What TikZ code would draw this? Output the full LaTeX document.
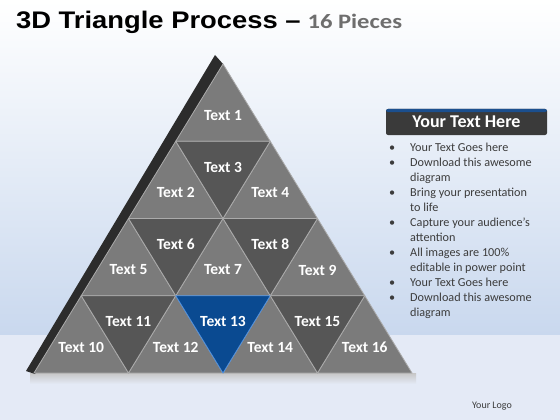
\documentclass[tikz,border=0pt]{standalone}
\usepackage{fontspec}
\setmainfont{Carlito}
\newfontfamily\titlefont{Liberation Sans}
\definecolor{upcol}{HTML}{7B7B7B}
\definecolor{downcol}{HTML}{565656}
\definecolor{edgecol}{HTML}{ABABAB}
\definecolor{bluecol}{HTML}{0A4A91}
\definecolor{blueedge}{HTML}{4F8FDC}
\definecolor{sidecol}{HTML}{2C2C2C}
\definecolor{bgblue}{HTML}{C9D8EE}
\definecolor{bglow}{HTML}{E4EAF6}
\definecolor{hdrgray}{HTML}{3A3A3A}
\definecolor{hdrblue}{HTML}{1B4F8E}
\definecolor{piecegray}{HTML}{6E6E6E}
\definecolor{notegray}{HTML}{3C3C3C}
\tikzset{
  upface/.style={fill=upcol,draw=edgecol,line width=0.8pt,line join=round},
  downface/.style={fill=downcol,draw=edgecol,line width=0.8pt,line join=round},
  blueface/.style={fill=bluecol,draw=blueedge,line width=0.8pt,line join=round},
  lbl/.style={text=white,font=\fontsize{15.5}{18}\selectfont\bfseries,inner sep=0pt}
}
\begin{document}
\begin{tikzpicture}[x=1pt,y=-1pt]
\useasboundingbox (0,0) rectangle (560,420);
\shade[top color=white,bottom color=bgblue] (0,0) rectangle (560,335);
\fill[bglow] (0,335) rectangle (560,420);
\shade[top color=black!22,bottom color=bglow] (30,373) rectangle (416,384);
\node[anchor=base west,inner sep=0pt] (title) at (16,29)
  {\scalebox{1.14}[1]{\titlefont\bfseries\fontsize{24}{28}\selectfont 3D Triangle Process –}\hspace{7pt}%
   \scalebox{1.2}[1]{\color{piecegray}\bfseries\fontsize{20.5}{24}\selectfont 16 Pieces}};
\fill[sidecol] (26,371) -- (215,55) -- (223,64) -- (35,374) -- cycle;
\foreach \r in {0,...,3}{
  \foreach \j in {0,...,\r}{
    \pgfmathsetmacro\ax{223+(2*\j-\r)*47.25}
    \pgfmathsetmacro\ay{64+\r*77.25}
    \pgfmathtruncatemacro\n{\r*\r+1+2*\j}
    \filldraw[upface] (\ax,\ay) -- (\ax-47.25,\ay+77.25) -- (\ax+47.25,\ay+77.25) -- cycle;
    \node[lbl] (t\n) at (\ax,\ay+51.5) {Text \n};
  }
}
\foreach \r in {1,...,3}{
  \foreach \j in {1,...,\r}{
    \pgfmathsetmacro\bx{223+(2*\j-\r-1)*47.25}
    \pgfmathsetmacro\by{64+(\r+1)*77.25}
    \pgfmathtruncatemacro\n{\r*\r+2*\j}
    \ifnum\n=13 \def\fc{blueface}\else\def\fc{downface}\fi
    \filldraw[\fc] (\bx,\by) -- (\bx-47.25,\by-77.25) -- (\bx+47.25,\by-77.25) -- cycle;
    \node[lbl] (t\n) at (\bx,\by-51.5) {Text \n};
  }
}
\node[fill=hdrgray,rounded corners=2pt,minimum width=161pt,minimum height=26pt,inner sep=0pt,
  text=white,font=\fontsize{18}{20}\selectfont\bfseries,
  path picture={\fill[hdrblue] (path picture bounding box.north west) rectangle ([yshift=-3pt]path picture bounding box.north east);}]
  (hdr) at (466.5,122) {Your Text Here};
\node[anchor=north west,inner sep=0pt,text=notegray,font=\fontsize{12.2}{15}\selectfont] (notes) at (389,141)
  {\begin{tabular}{@{}p{21pt}@{}l@{}}
   \textbullet & Your Text Goes here\\
   \textbullet & Download this awesome\\
               & diagram\\
   \textbullet & Bring your presentation\\
               & to life\\
   \textbullet & Capture your audience’s\\
               & attention\\
   \textbullet & All images are 100\%\\
               & editable in power point\\
   \textbullet & Your Text Goes here\\
   \textbullet & Download this awesome\\
               & diagram
   \end{tabular}};
\node[text=notegray,font=\fontsize{10}{12}\selectfont,inner sep=0pt] (logo) at (492,406) {Your Logo};
\end{tikzpicture}
\end{document}
